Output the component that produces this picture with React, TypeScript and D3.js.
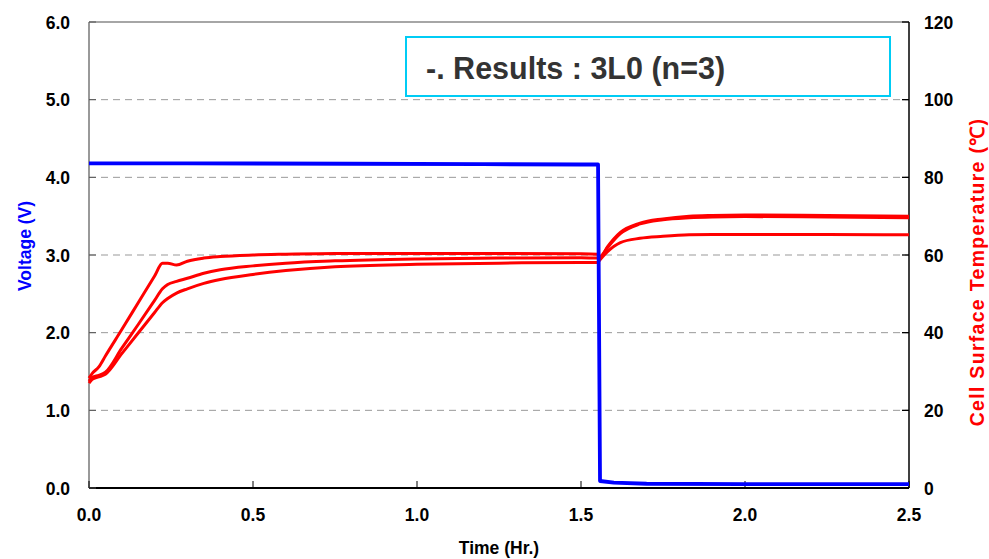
import * as React from 'react';
import * as d3 from 'd3';

// Voltage trace (V) vs time (Hr.)
const voltTime = [0, 0.3, 0.8, 1.2, 1.5, 1.552, 1.558, 1.6, 1.7, 2.0, 2.5];
const voltage = [4.18, 4.18, 4.175, 4.17, 4.165, 4.165, 0.09, 0.07, 0.055, 0.05, 0.05];

// Cell surface temperature (deg C), three cells sampled on one time base
const tempTime = [
  0, 0.01, 0.03, 0.05, 0.1, 0.15, 0.2, 0.224, 0.24, 0.267, 0.3, 0.35, 0.4, 0.5, 0.6, 0.75,
  1.0, 1.25, 1.5, 1.55, 1.56, 1.58, 1.62, 1.68, 1.75, 1.83, 1.9, 2.0, 2.25, 2.5,
];
const tempCell1 = [
  28.3, 29.5, 31.2, 34.0, 40.8, 47.7, 54.6, 57.9, 57.9, 57.4, 58.4, 59.2, 59.6, 60.0, 60.2, 60.4,
  60.4, 60.4, 60.3, 60.2, 59.5, 62.0, 65.8, 68.2, 69.3, 70.0, 70.2, 70.3, 70.2, 70.0,
];
const tempCell2 = [
  27.5, 28.5, 29.0, 29.8, 36.0, 42.1, 48.3, 51.3, 52.4, 53.2, 54.0, 55.3, 56.2, 57.2, 57.9, 58.5,
  59.0, 59.2, 59.3, 59.2, 59.6, 61.8, 65.5, 68.0, 69.1, 69.6, 69.8, 69.9, 69.8, 69.6,
];
const tempCell3 = [
  27.0, 28.0, 28.6, 29.3, 34.6, 39.9, 45.2, 47.7, 48.8, 50.2, 51.3, 52.7, 53.7, 55.0, 56.0, 57.0,
  57.6, 57.9, 58.1, 58.1, 59.0, 60.8, 63.2, 64.3, 64.8, 65.2, 65.3, 65.3, 65.3, 65.2,
];

const xTicks = [0, 0.5, 1.0, 1.5, 2.0, 2.5];
const voltTicks = [0, 1, 2, 3, 4, 5, 6];
const tempTicks = [0, 20, 40, 60, 80, 100, 120];

const legendText = '-. Results : 3L0 (n=3)';

const W = 989;
const H = 559;
const m = { left: 89, right: 909, top: 22, bottom: 488 };
const font = '"Liberation Sans", Arial, sans-serif';

const x = d3.scaleLinear().domain([0, 2.5]).range([m.left, m.right]);
const yV = d3.scaleLinear().domain([0, 6]).range([m.bottom, m.top]);
const yT = d3.scaleLinear().domain([0, 120]).range([m.bottom, m.top]);

export default function App() {
  const voltLine = d3
    .line<number>()
    .x((_, i) => x(voltTime[i]))
    .y((d) => yV(d));

  const tempLine = d3
    .line<number>()
    .x((_, i) => x(tempTime[i]))
    .y((d) => yT(d))
    .curve(d3.curveMonotoneX);

  const cells = [tempCell1, tempCell2, tempCell3];

  return (
    <svg
      width={W}
      height={H}
      style={{ position: 'absolute', left: 0, top: 0, background: '#fff' }}
      fontFamily={font}
    >
      {/* Gridlines */}
      {voltTicks.slice(1, -1).map((v) => (
        <line
          key={v}
          x1={m.left}
          x2={m.right}
          y1={yV(v)}
          y2={yV(v)}
          stroke="#999"
          strokeWidth={1}
          strokeDasharray="7,5"
        />
      ))}

      {/* Frame */}
      <line x1={m.left} x2={m.right} y1={m.top} y2={m.top} stroke="#888" strokeWidth={1.3} />
      <line x1={m.left} x2={m.left} y1={m.top} y2={m.bottom} stroke="#777" strokeWidth={1.5} />
      <line x1={m.right} x2={m.right} y1={m.top} y2={m.bottom} stroke="#000" strokeWidth={1.5} />
      <line x1={m.left} x2={m.right} y1={m.bottom} y2={m.bottom} stroke="#000" strokeWidth={1.8} />

      {/* Ticks */}
      {xTicks.map((t) => (
        <line key={t} x1={x(t)} x2={x(t)} y1={m.bottom} y2={m.bottom - 7} stroke="#000" strokeWidth={1} />
      ))}
      {voltTicks.map((v) => (
        <line key={v} x1={m.left} x2={m.left + 7} y1={yV(v)} y2={yV(v)} stroke="#555" strokeWidth={1} />
      ))}
      {tempTicks.map((v) => (
        <line key={v} x1={m.right - 7} x2={m.right} y1={yT(v)} y2={yT(v)} stroke="#000" strokeWidth={1.3} />
      ))}

      {/* Tick labels */}
      {xTicks.map((t) => (
        <text key={t} x={x(t)} y={521} textAnchor="middle" fontSize={17.5} fontWeight="bold" fill="#000">
          {t.toFixed(1)}
        </text>
      ))}
      {voltTicks.map((v) => (
        <text key={v} x={70} y={yV(v) + 6.5} textAnchor="end" fontSize={17.5} fontWeight="bold" fill="#000">
          {v.toFixed(1)}
        </text>
      ))}
      {tempTicks.map((v) => (
        <text key={v} x={924} y={yT(v) + 6.5} textAnchor="start" fontSize={17.5} fontWeight="bold" fill="#000">
          {v}
        </text>
      ))}

      {/* Axis titles */}
      <text x={(m.left + m.right) / 2} y={554} textAnchor="middle" fontSize={17.5} fontWeight="bold" fill="#000">
        Time (Hr.)
      </text>
      <text
        transform={`translate(31, 246) rotate(-90)`}
        textAnchor="middle"
        fontSize={17.5}
        fontWeight="bold"
        fill="#0000FF"
      >
        Voltage (V)
      </text>
      <text
        transform={`translate(984, 272) rotate(-90)`}
        textAnchor="middle"
        fontSize={19.5}
        fontWeight="bold"
        letterSpacing={1.3}
        fill="#FF0000"
      >
        Cell Surface Temperature (℃)
      </text>

      {/* Legend box */}
      <rect x={406} y={37} width={484} height={59} fill="#fff" stroke="#00CCF5" strokeWidth={2} />
      <text x={426} y={79} fontSize={30.5} fontWeight="bold" fill="#333">
        {legendText}
      </text>

      {/* Temperature curves */}
      {cells.map((c, i) => (
        <path
          key={i}
          d={tempLine(c) || ''}
          fill="none"
          stroke="#FF0000"
          strokeWidth={3}
          strokeLinejoin="round"
        />
      ))}

      {/* Voltage */}
      <path d={voltLine(voltage) || ''} fill="none" stroke="#0000FF" strokeWidth={3.8} strokeLinejoin="round" />
    </svg>
  );
}
